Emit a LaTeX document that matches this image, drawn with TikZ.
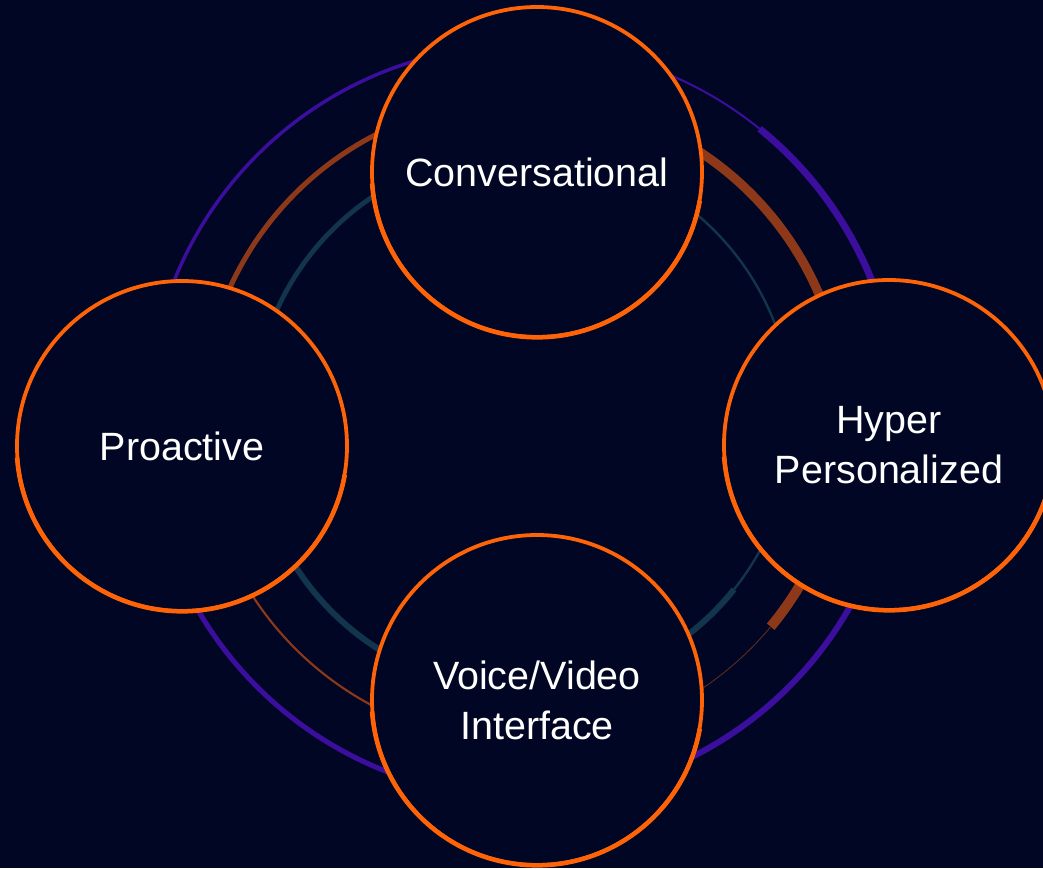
\documentclass[tikz,border=0pt]{standalone}
\usepackage{fontspec}
\setmainfont{Liberation Sans}
\definecolor{bg}{HTML}{000623}
\definecolor{orng}{HTML}{FF6308}
\definecolor{purp}{HTML}{3B0E9E}
\definecolor{brwn}{HTML}{8C3819}
\definecolor{tealring}{HTML}{12344C}
\definecolor{dbrwn}{HTML}{5A2A1E}
\newcommand\ringarc[5]{\draw[#1, line width=#2] (O) ++(#4:#3) arc[start angle=#4, end angle=#5, radius=#3];}
\newcommand\lowerrim[1]{\draw[orng, line width=3.4pt] (#1.center) ++(10:165.3) arc[start angle=10, end angle=176, radius=165.3];}
\begin{document}
\begin{tikzpicture}[x=0.75pt,y=-0.75pt,
  bubble/.style={circle, draw=orng, line width=2.85pt, fill=bg, text=white,
    minimum size=247.5pt, inner sep=0pt, align=center,
    font=\fontsize{29.6}{37.5}\selectfont}]
\useasboundingbox (0,0) rectangle (1043,868);
\fill[bg] (0,0) rectangle (1043,868);
\begin{scope}
\clip (0,0) rectangle (1043,868);
\coordinate (O) at (523,421);
% outer purple ring
\ringarc{purp}{2.6pt}{376}{176}{273}
\ringarc{purp}{1.5pt}{376}{273}{309}
\ringarc{purp}{5.2pt}{376}{309}{364}
\ringarc{purp}{4.5pt}{376}{4}{87}
\ringarc{purp}{3.8pt}{376}{87}{176}
% middle brown ring
\ringarc{brwn}{3.8pt}{322}{176}{273}
\ringarc{brwn}{6.8pt}{322}{273}{364}
\ringarc{brwn}{7.5pt}{322}{4}{39.7}
\ringarc{dbrwn}{0.7pt}{322}{39.7}{87}
\ringarc{brwn}{1.6pt}{322}{87}{176}
% inner teal ring
\ringarc{tealring}{3.6pt}{270}{176}{273}
\ringarc{tealring}{1.8pt}{270}{273}{364}
\ringarc{tealring}{1.8pt}{270}{4}{38.6}
\ringarc{tealring}{4.5pt}{270}{38.6}{87}
\ringarc{tealring}{4.5pt}{270}{87}{176}
% circles
\node[bubble] (conv) at (537,172) {Conversational};
\node[bubble] (pro) at (182,446) {Proactive};
\node[bubble] (hyper) at (889,445) {Hyper\\Personalized};
\node[bubble] (voice) at (537,700) {Voice/Video\\Interface};
\lowerrim{conv}
\lowerrim{pro}
\lowerrim{hyper}
\lowerrim{voice}
\end{scope}
\end{tikzpicture}
\end{document}
